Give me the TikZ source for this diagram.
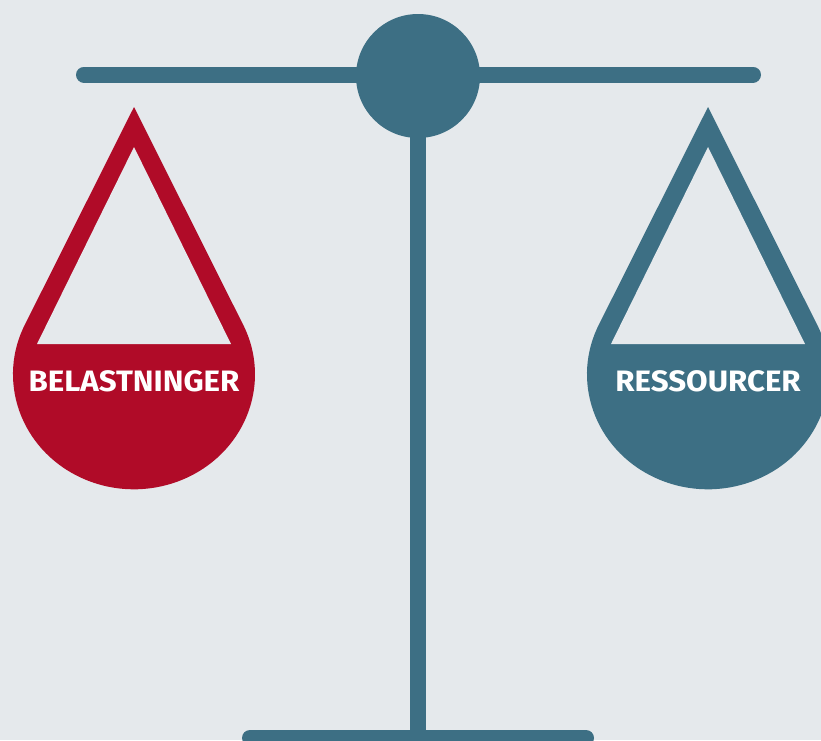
\documentclass[tikz,border=0pt]{standalone}
\usepackage{graphicx}
\usepackage{fontspec}
\setsansfont{Fira Sans}
\definecolor{bgcol}{RGB}{229,233,236}
\definecolor{scaleteal}{RGB}{61,111,132}
\definecolor{scalered}{RGB}{176,11,40}
\newcommand{\widetxt}[1]{\scalebox{1.06}[1]{#1}}
\tikzset{
    bar/.style={draw=scaleteal, line width=16pt, line cap=round},
    panlabel/.style={text=white, font=\sffamily\bfseries\fontsize{29.5}{29.5}\selectfont, inner sep=0pt}
}
\begin{document}
\begin{tikzpicture}[x=1pt, y=-1pt]
    \useasboundingbox (0,0) rectangle (821,740);
    \fill[bgcol] (0,0) rectangle (821,740);
    % beam, pivot and foot
    \coordinate (beamL) at (84,74.5);
    \coordinate (beamR) at (753,74.5);
    \coordinate (footL) at (250,738);
    \coordinate (footR) at (586,738);
    \coordinate (foot) at (418,738);
    \draw[bar] (beamL) -- (beamR);
    \node[circle, fill=scaleteal, minimum size=124pt, inner sep=0pt] (pivot) at (418,76) {};
    \draw[bar, line cap=butt, line width=15.6pt] (pivot.center) -- (foot);
    \draw[bar] (footL) -- (footR);
    % the two pans
    \foreach \x/\col/\txt/\name in {134/scalered/BELASTNINGER/load, 708/scaleteal/RESSOURCER/res} {
        \fill[\col] (\x,107) -- ++(-108.2,215.8) arc[start angle=206.6, end angle=-26.6, x radius=121, y radius=115] -- cycle;
        \fill[bgcol] (\x,147) -- (\x-97,344) -- (\x+97,344) -- cycle;
        \node[panlabel] (\name) at (\x,381) {\widetxt{\txt}};
    }
\end{tikzpicture}
\end{document}
